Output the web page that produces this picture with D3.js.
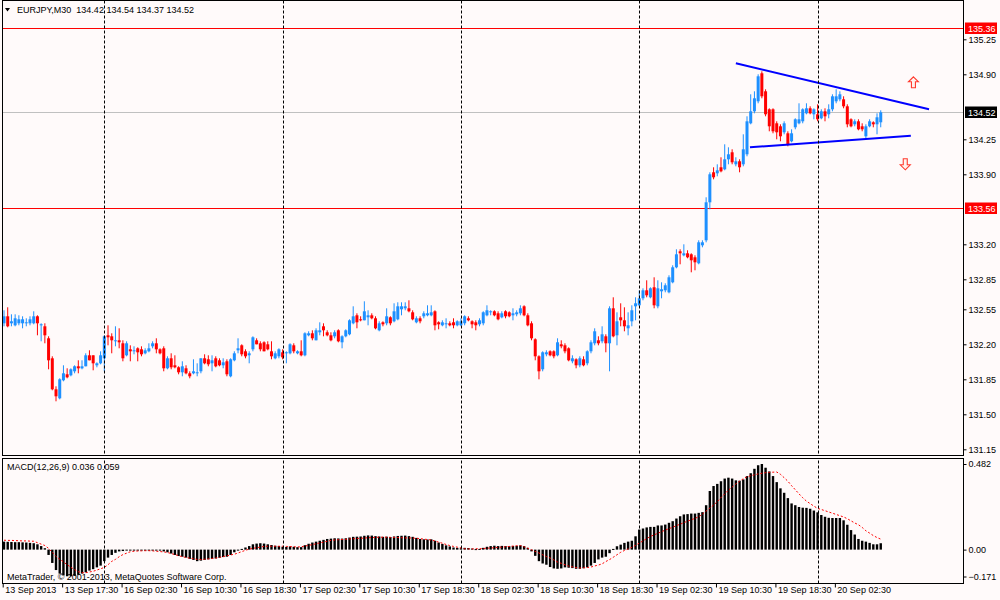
<!DOCTYPE html>
<html><head><meta charset="utf-8">
<script src="https://cdnjs.cloudflare.com/ajax/libs/d3/7.8.5/d3.min.js"></script>
<style>
body{margin:0;background:#fffafa;}
svg{display:block;font-family:"Liberation Sans",Arial,sans-serif;}
</style>
</head><body>
<svg id="c" width="1000" height="600"></svg>
<script>
// ---------- DATA ----------
const symbol = "EURJPY,M30";
const opens = [132.41,132.48,132.41,132.39,132.41,132.41,132.41,132.41,132.41,132.48,
132.39,132.38,132.26,132.06,131.75,131.66,131.84,131.90,131.89,131.93,
131.98,131.96,131.98,132.09,132.09,131.99,132.01,132.06,132.29,132.28,
132.23,132.24,132.21,132.09,132.15,132.13,132.16,132.15,132.11,132.13,
132.18,132.21,132.15,132.16,131.96,132.06,131.99,131.97,131.92,131.96,
131.91,131.91,131.91,131.93,132.06,132.05,132.01,132.06,132.04,131.99,
132.03,131.88,132.04,132.14,132.19,132.13,132.09,132.15,132.24,132.21,
132.22,132.20,132.13,132.06,132.08,132.12,132.11,132.11,132.19,132.11,
132.13,132.09,132.29,132.31,132.24,132.32,132.38,132.32,132.29,132.28,
132.34,132.22,132.28,132.30,132.41,132.49,132.45,132.44,132.47,132.49,
132.46,132.34,132.42,132.41,132.47,132.43,132.45,132.55,132.56,132.56,
132.52,132.42,132.46,132.48,132.49,132.49,132.53,132.42,132.39,132.40,
132.41,132.42,132.39,132.39,132.41,132.46,132.43,132.42,132.40,132.41,
132.49,132.52,132.53,132.51,132.47,132.53,132.52,132.49,132.50,132.51,
132.58,132.49,132.41,132.25,132.08,131.95,132.10,132.13,132.13,132.09,
132.20,132.19,132.16,132.03,132.05,131.99,132.05,132.01,132.13,132.21,
132.24,132.23,132.28,132.21,132.56,132.29,132.47,132.44,132.36,132.43,
132.58,132.59,132.66,132.74,132.67,132.77,132.58,132.73,132.74,132.72,
132.82,132.97,133.13,133.09,133.11,133.10,133.07,133.01,133.19,133.24,
133.62,133.92,133.91,133.97,133.95,134.05,134.12,134.00,134.03,134.00,
134.10,134.41,134.53,134.63,134.91,134.73,134.55,134.55,134.41,134.38,
134.32,134.31,134.23,134.37,134.41,134.43,134.51,134.56,134.50,134.50,
134.46,134.53,134.50,134.55,134.63,134.65,134.65,134.58,134.45,134.40,
134.43,134.38,134.28,134.38,134.42,134.40,134.42];
const highs = [132.54,132.57,132.50,132.50,132.49,132.48,132.46,132.48,132.53,132.49,
132.41,132.41,132.28,132.08,131.78,131.86,131.99,131.96,131.96,131.99,
132.04,132.04,132.11,132.14,132.09,132.02,132.13,132.29,132.39,132.31,
132.38,132.36,132.24,132.23,132.19,132.18,132.17,132.18,132.16,132.21,
132.23,132.26,132.16,132.18,132.08,132.11,132.09,131.98,132.03,131.99,
131.93,132.05,132.01,132.06,132.10,132.09,132.09,132.08,132.06,132.06,
132.05,132.06,132.13,132.26,132.20,132.15,132.13,132.28,132.26,132.23,
132.23,132.23,132.23,132.13,132.16,132.15,132.13,132.21,132.21,132.14,
132.24,132.32,132.33,132.34,132.36,132.42,132.41,132.34,132.32,132.34,
132.35,132.29,132.35,132.45,132.58,132.51,132.48,132.63,132.54,132.51,
132.48,132.43,132.43,132.56,132.48,132.61,132.62,132.62,132.62,132.64,
132.54,132.48,132.48,132.53,132.59,132.59,132.54,132.43,132.44,132.46,
132.43,132.46,132.44,132.46,132.49,132.48,132.44,132.44,132.46,132.53,
132.59,132.54,132.54,132.53,132.53,132.54,132.53,132.56,132.54,132.59,
132.59,132.51,132.43,132.26,132.09,132.13,132.14,132.14,132.14,132.26,
132.24,132.21,132.17,132.09,132.06,132.08,132.08,132.14,132.24,132.36,
132.28,132.38,132.30,132.58,132.67,132.52,132.61,132.57,132.52,132.59,
132.67,132.74,132.76,132.84,132.77,132.87,132.84,132.82,132.81,132.89,
132.99,133.15,133.15,133.20,133.14,133.11,133.09,133.24,133.24,133.67,
133.92,133.97,134.00,134.07,134.20,134.17,134.15,134.07,134.05,134.30,
134.48,134.70,134.73,134.90,134.93,134.75,134.56,134.56,134.43,134.40,
134.43,134.33,134.35,134.46,134.61,134.56,134.61,134.58,134.56,134.60,
134.55,134.56,134.60,134.70,134.75,134.73,134.68,134.60,134.46,134.45,
134.45,134.41,134.40,134.45,134.43,134.51,134.54];
const lows = [132.38,132.37,132.38,132.38,132.39,132.36,132.38,132.39,132.40,132.29,
132.23,132.21,131.95,131.74,131.63,131.65,131.83,131.86,131.88,131.91,
131.91,131.95,131.98,132.04,131.94,131.97,132.00,131.93,132.19,132.11,
132.18,132.16,132.03,132.08,132.03,132.10,132.03,132.08,132.10,132.12,
132.16,132.11,132.10,131.93,131.95,131.95,131.96,131.90,131.88,131.90,
131.86,131.90,131.88,131.91,132.00,131.98,131.93,131.97,131.98,131.96,
131.88,131.87,132.03,132.11,132.08,132.06,132.01,132.13,132.20,132.13,
132.13,132.14,132.05,132.05,132.06,132.05,132.01,132.10,132.11,132.10,
132.08,132.08,132.28,132.24,132.24,132.29,132.28,132.28,132.23,132.26,
132.22,132.16,132.27,132.29,132.40,132.36,132.43,132.44,132.39,132.45,
132.35,132.33,132.38,132.39,132.39,132.42,132.44,132.49,132.54,132.52,
132.44,132.41,132.41,132.46,132.48,132.48,132.34,132.35,132.38,132.36,
132.38,132.36,132.38,132.38,132.39,132.43,132.36,132.34,132.38,132.39,
132.48,132.49,132.48,132.44,132.46,132.46,132.47,132.44,132.48,132.49,
132.48,132.38,132.24,132.04,131.85,131.93,132.08,132.08,132.06,132.08,
132.16,132.11,132.03,132.01,131.96,131.97,131.98,131.99,132.11,132.19,
132.19,132.21,132.12,131.93,132.27,132.19,132.38,132.33,132.29,132.38,
132.44,132.58,132.64,132.67,132.66,132.56,132.56,132.66,132.72,132.71,
132.81,132.96,133.00,133.08,133.06,132.92,132.94,133.00,133.17,133.22,
133.55,133.85,133.88,133.92,133.94,134.00,134.00,133.98,133.92,133.98,
134.08,134.40,134.51,134.61,134.66,134.48,134.33,134.31,134.25,134.23,
134.30,134.18,134.22,134.35,134.40,134.41,134.50,134.50,134.45,134.43,
134.45,134.43,134.46,134.53,134.61,134.63,134.56,134.37,134.37,134.38,
134.34,134.33,134.26,134.37,134.37,134.30,134.37];
const closes = [132.48,132.38,132.43,132.46,132.45,132.45,132.42,132.45,132.48,132.41,
132.40,132.29,132.04,131.75,131.68,131.85,131.91,131.87,131.95,131.98,
131.96,131.98,132.09,132.04,132.01,132.01,132.09,132.28,132.27,132.24,
132.24,132.22,132.06,132.21,132.13,132.14,132.12,132.10,132.14,132.16,
132.21,132.15,132.11,131.96,132.06,131.97,131.97,131.92,131.98,131.91,
131.88,131.93,131.92,132.06,132.01,132.00,132.04,131.98,131.99,132.02,
131.90,132.05,132.11,132.16,132.10,132.08,132.11,132.27,132.20,132.15,
132.13,132.15,132.08,132.11,132.15,132.07,132.12,132.20,132.13,132.13,
132.09,132.31,132.31,132.26,132.34,132.34,132.34,132.29,132.24,132.32,
132.23,132.28,132.34,132.44,132.48,132.42,132.44,132.53,132.49,132.46,
132.36,132.41,132.40,132.48,132.41,132.53,132.58,132.58,132.58,132.53,
132.45,132.46,132.43,132.51,132.51,132.52,132.39,132.40,132.42,132.41,
132.39,132.39,132.43,132.43,132.48,132.44,132.40,132.39,132.44,132.52,
132.54,132.53,132.49,132.45,132.51,132.48,132.48,132.51,132.52,132.56,
132.49,132.39,132.26,132.08,131.93,132.12,132.12,132.09,132.08,132.22,
132.18,132.13,132.04,132.06,131.99,132.06,131.99,132.13,132.22,132.33,
132.21,132.30,132.21,132.56,132.28,132.43,132.44,132.38,132.39,132.54,
132.61,132.66,132.74,132.69,132.76,132.59,132.76,132.75,132.79,132.87,
132.97,133.10,133.11,133.11,133.07,133.04,133.02,133.22,133.22,133.62,
133.90,133.87,133.94,133.93,134.05,134.10,134.02,134.03,133.97,134.15,
134.43,134.53,134.66,134.88,134.68,134.50,134.38,134.33,134.32,134.28,
134.41,134.20,134.31,134.45,134.45,134.55,134.56,134.51,134.55,134.45,
134.53,134.48,134.55,134.68,134.68,134.70,134.58,134.40,134.38,134.43,
134.35,134.35,134.38,134.43,134.40,134.47,134.52];
const macdHist = [0.045,0.044,0.043,0.042,0.042,0.041,0.040,0.038,0.036,0.030,
0.020,0.008,-0.030,-0.075,-0.115,-0.135,-0.145,-0.150,-0.150,-0.148,
-0.142,-0.135,-0.128,-0.118,-0.110,-0.100,-0.090,-0.065,-0.045,-0.030,
-0.018,-0.010,-0.008,-0.005,-0.004,-0.004,-0.003,-0.003,-0.003,-0.004,
-0.004,-0.005,-0.005,-0.010,-0.015,-0.022,-0.030,-0.036,-0.040,-0.045,
-0.052,-0.058,-0.065,-0.062,-0.058,-0.055,-0.052,-0.050,-0.046,-0.042,
-0.040,-0.030,-0.015,-0.004,0.004,0.012,0.020,0.030,0.034,0.036,
0.034,0.030,0.026,0.022,0.020,0.016,0.015,0.018,0.016,0.014,
0.014,0.025,0.033,0.040,0.045,0.050,0.055,0.060,0.062,0.064,
0.063,0.062,0.064,0.068,0.072,0.073,0.074,0.078,0.080,0.079,
0.076,0.074,0.072,0.073,0.071,0.074,0.077,0.078,0.079,0.076,
0.072,0.066,0.060,0.058,0.057,0.058,0.050,0.040,0.032,0.024,
0.018,0.012,0.010,0.008,0.010,0.009,0.006,0.003,0.004,0.010,
0.016,0.020,0.022,0.020,0.021,0.020,0.019,0.020,0.021,0.024,
0.020,0.010,-0.010,-0.035,-0.065,-0.078,-0.085,-0.098,-0.106,-0.108,
-0.106,-0.100,-0.102,-0.104,-0.108,-0.108,-0.105,-0.100,-0.090,-0.075,
-0.055,-0.045,-0.040,-0.020,0.004,0.019,0.028,0.038,0.045,0.050,
0.075,0.113,0.119,0.125,0.128,0.128,0.136,0.136,0.141,0.151,
0.160,0.175,0.188,0.198,0.200,0.203,0.203,0.207,0.211,0.250,
0.330,0.358,0.370,0.385,0.400,0.405,0.400,0.390,0.388,0.395,
0.414,0.430,0.455,0.475,0.482,0.461,0.440,0.414,0.380,0.345,
0.320,0.290,0.260,0.250,0.240,0.236,0.235,0.230,0.220,0.210,
0.195,0.185,0.179,0.178,0.178,0.178,0.165,0.140,0.110,0.085,
0.060,0.050,0.045,0.038,0.030,0.030,0.036];
const macdSignal = [0.053,0.052,0.052,0.051,0.050,0.049,0.049,0.048,0.047,0.039,
0.031,0.023,0.007,-0.015,-0.038,-0.054,-0.069,-0.085,-0.099,-0.113,
-0.124,-0.130,-0.130,-0.126,-0.122,-0.115,-0.108,-0.100,-0.085,-0.066,
-0.055,-0.040,-0.028,-0.020,-0.012,-0.009,-0.008,-0.007,-0.006,-0.006,
-0.007,-0.009,-0.011,-0.013,-0.016,-0.022,-0.028,-0.034,-0.040,-0.044,
-0.048,-0.051,-0.055,-0.056,-0.054,-0.052,-0.050,-0.047,-0.044,-0.039,
-0.035,-0.030,-0.026,-0.019,-0.011,-0.004,0.003,0.007,0.011,0.014,
0.018,0.019,0.019,0.019,0.019,0.019,0.018,0.017,0.016,0.015,
0.016,0.020,0.024,0.028,0.033,0.038,0.042,0.047,0.052,0.054,
0.056,0.057,0.058,0.060,0.061,0.063,0.064,0.065,0.067,0.068,
0.069,0.070,0.070,0.070,0.069,0.069,0.068,0.067,0.066,0.066,
0.065,0.064,0.062,0.059,0.057,0.054,0.049,0.042,0.036,0.029,
0.023,0.018,0.014,0.010,0.005,0.004,0.004,0.005,0.005,0.006,
0.008,0.009,0.011,0.013,0.014,0.016,0.018,0.020,0.022,0.023,
0.016,0.008,-0.001,-0.010,-0.019,-0.029,-0.039,-0.047,-0.058,-0.070,
-0.077,-0.085,-0.093,-0.097,-0.101,-0.104,-0.102,-0.101,-0.098,-0.092,
-0.087,-0.080,-0.067,-0.056,-0.043,-0.029,-0.015,-0.005,0.004,0.013,
0.024,0.037,0.049,0.062,0.074,0.083,0.092,0.101,0.110,0.118,
0.126,0.135,0.143,0.152,0.160,0.168,0.176,0.185,0.200,0.217,
0.234,0.251,0.270,0.293,0.314,0.335,0.352,0.370,0.385,0.399,
0.410,0.416,0.421,0.426,0.430,0.433,0.435,0.436,0.437,0.424,
0.405,0.385,0.360,0.337,0.314,0.292,0.273,0.259,0.245,0.232,
0.226,0.219,0.212,0.205,0.198,0.191,0.184,0.174,0.162,0.150,
0.140,0.125,0.106,0.093,0.079,0.068,0.059];
const timeLabels = ["13 Sep 2013","13 Sep 17:30","16 Sep 02:30","16 Sep 10:30","16 Sep 18:30",
"17 Sep 02:30","17 Sep 10:30","17 Sep 18:30","18 Sep 02:30","18 Sep 10:30","18 Sep 18:30",
"19 Sep 02:30","19 Sep 10:30","19 Sep 18:30","20 Sep 02:30"];
const timeTickBars = [0,16,32,48,64,80,96,112,128,144,160,176,192,208,224];
const separatorBars = [27,75,123,171,219];
const priceTicks = [135.25,134.90,134.25,133.90,133.20,132.85,132.55,132.20,131.85,131.50,131.15];
const macdTicks = [0.482,0.00,-0.171];
const levelLines = [135.36,133.56];
const bidPrice = 134.52;
const trendUpper = [[197,135.01],[249,134.55]];
const trendLower = [[200.8,134.17],[244.1,134.285]];
const arrowUp = [244.8,134.82];
const arrowDown = [242.6,134.00];

// ---------- LAYOUT ----------
const BG = "#fffafa";
const L = 2.5, R = 963.5, mainTop = 0.5, mainBot = 455.5, macdTop = 458.5, macdBot = 583.5;
const n = closes.length;
const svg = d3.select("#c");
svg.append("rect").attr("width",1000).attr("height",600).attr("fill",BG);

const x = d3.scaleLinear().domain([0, n-1]).range([4, 4 + (n-1)*3.715]);
const y = d3.scaleLinear().domain([131.15, 135.36]).range([449.3, 28.3]);
const ym = d3.scaleLinear().domain([-0.171, 0.482]).range([580, 464]);

const defs = svg.append("defs");
defs.append("clipPath").attr("id","cm").append("rect").attr("x",L).attr("y",mainTop).attr("width",R-L).attr("height",mainBot-mainTop);
defs.append("clipPath").attr("id","cd").append("rect").attr("x",L).attr("y",macdTop).attr("width",R-L).attr("height",macdBot-macdTop);

const gMain = svg.append("g").attr("clip-path","url(#cm)");
const gMacd = svg.append("g").attr("clip-path","url(#cd)");

// separators (dashed)
svg.append("g").selectAll("line").data(separatorBars).join("line")
  .attr("x1",d=>Math.round(x(d))+0.5).attr("x2",d=>Math.round(x(d))+0.5)
  .attr("y1",mainTop).attr("y2",macdBot)
  .attr("stroke","#000").attr("stroke-width",1).attr("stroke-dasharray","3,2");
svg.append("rect").attr("x",L).attr("y",mainBot).attr("width",R-L).attr("height",macdTop-mainBot).attr("fill",BG);

// level lines
gMain.selectAll("line.lvl").data(levelLines).join("line").attr("class","lvl")
  .attr("x1",L).attr("x2",R).attr("y1",d=>Math.round(y(d))+0.5).attr("y2",d=>Math.round(y(d))+0.5)
  .attr("stroke","#ff0000").attr("stroke-width",1);
gMain.append("line").attr("x1",L).attr("x2",R)
  .attr("y1",Math.round(y(bidPrice))+0.5).attr("y2",Math.round(y(bidPrice))+0.5)
  .attr("stroke","#c0c0c0").attr("stroke-width",1);

// candles
const idx = d3.range(n);
const col = i => closes[i] >= opens[i] ? "#1e90ff" : "#ff0000";
gMain.append("g").selectAll("line").data(idx).join("line")
  .attr("x1",i=>x(i)).attr("x2",i=>x(i))
  .attr("y1",i=>y(highs[i])).attr("y2",i=>y(lows[i]))
  .attr("stroke",col).attr("stroke-width",1);
gMain.append("g").selectAll("rect").data(idx).join("rect")
  .attr("x",i=>x(i)-1.5).attr("width",3)
  .attr("y",i=>y(Math.max(opens[i],closes[i])))
  .attr("height",i=>Math.max(1, Math.abs(y(opens[i])-y(closes[i]))))
  .attr("fill",col);

// trend lines
const tl = d3.line().x(d=>x(d[0])).y(d=>y(d[1]));
[trendUpper, trendLower].forEach(t=>{
  gMain.append("path").attr("d",tl(t)).attr("fill","none").attr("stroke","#0000ff").attr("stroke-width",2);
});

// hollow arrows
const upPath = "M0,-5.5 L5,-0.5 L2,-0.5 L2,5.5 L-2,5.5 L-2,-0.5 L-5,-0.5 Z";
const downPath = "M0,5.5 L5,0.5 L2,0.5 L2,-5.5 L-2,-5.5 L-2,0.5 L-5,0.5 Z";
gMain.append("path").attr("d",upPath)
  .attr("transform",`translate(${x(arrowUp[0])},${y(arrowUp[1])})`)
  .attr("fill","#fff2ee").attr("stroke","#ff3b2f").attr("stroke-width",1.1);
gMain.append("path").attr("d",downPath)
  .attr("transform",`translate(${x(arrowDown[0])},${y(arrowDown[1])})`)
  .attr("fill","#fff2ee").attr("stroke","#ff3b2f").attr("stroke-width",1.1);

// header
svg.append("path").attr("d","M5,8 L10,8 L7.5,11.5 Z").attr("fill","#000");
svg.append("text").attr("x",17).attr("y",13).attr("font-size",9).attr("fill","#000")
  .style("white-space","pre")
  .text(symbol + "  " + [opens[n-1],highs[n-1],lows[n-1],closes[n-1]].map(d=>d.toFixed(2)).join(" "));

// MACD
gMacd.append("g").selectAll("rect").data(idx).join("rect")
  .attr("x",i=>x(i)-1.2).attr("width",2.4)
  .attr("y",i=>Math.min(ym(0),ym(macdHist[i])))
  .attr("height",i=>Math.max(1,Math.abs(ym(macdHist[i])-ym(0))))
  .attr("fill","#000");
gMacd.append("path").attr("d",d3.line().x(i=>x(i)).y(i=>ym(macdSignal[i]))(idx))
  .attr("fill","none").attr("stroke","#ff0000").attr("stroke-width",1).attr("stroke-dasharray","2,2");
svg.append("text").attr("x",7).attr("y",470).attr("font-size",9).attr("fill","#000")
  .text("MACD(12,26,9) " + macdHist[n-1].toFixed(3) + " " + macdSignal[n-1].toFixed(3));
svg.append("text").attr("x",7).attr("y",580).attr("font-size",9).attr("fill","#000")
  .text("MetaTrader, \u00A9 2001-2013, MetaQuotes Software Corp.");

// frames
const fr = svg.append("g").attr("fill","none").attr("stroke","#000").attr("stroke-width",1);
fr.append("rect").attr("x",L).attr("y",mainTop).attr("width",R-L).attr("height",mainBot-mainTop);
fr.append("rect").attr("x",L).attr("y",macdTop).attr("width",R-L).attr("height",macdBot-macdTop);

// price axis
const pa = svg.append("g").attr("transform",`translate(${R},0)`)
  .call(d3.axisRight(y).tickValues(priceTicks).tickSize(3).tickPadding(2).tickFormat(d3.format(".2f")));
pa.select(".domain").remove();
pa.selectAll("text").attr("font-size",9).attr("font-family","Liberation Sans, Arial").attr("fill","#000");

// macd axis
const ma = svg.append("g").attr("transform",`translate(${R},0)`)
  .call(d3.axisRight(ym).tickValues(macdTicks).tickSize(3).tickPadding(2)
    .tickFormat(d=> d===0 ? "0.00" : d3.format(".3f")(d)));
ma.select(".domain").remove();
ma.selectAll("text").attr("font-size",9).attr("font-family","Liberation Sans, Arial").attr("fill","#000");
ma.selectAll(".tick").filter(d=>d<0).attr("transform",`translate(0,${ym(-0.171)-3})`);

// level boxes
function box(price, fill){
  const yy = Math.round(y(price))+0.5;
  svg.append("rect").attr("x",R+1.5).attr("y",yy-6).attr("width",32).attr("height",11.5).attr("fill",fill);
  svg.append("text").attr("x",R+4.5).attr("y",yy+3.3).attr("font-size",9).attr("fill","#fff").text(price.toFixed(2));
}
levelLines.forEach(p=>box(p,"#ff0000"));
box(bidPrice,"#000");

// time axis
const ta = svg.append("g").attr("transform",`translate(-1.3,${macdBot})`)
  .call(d3.axisBottom(x).tickValues(timeTickBars).tickSize(4).tickPadding(1)
    .tickFormat((d,i)=>timeLabels[i]));
ta.select(".domain").remove();
ta.selectAll("text").attr("text-anchor","start").attr("dx",2).attr("dy","0.55em")
  .attr("font-size",9).attr("font-family","Liberation Sans, Arial").attr("fill","#000");
</script>
</body></html>
